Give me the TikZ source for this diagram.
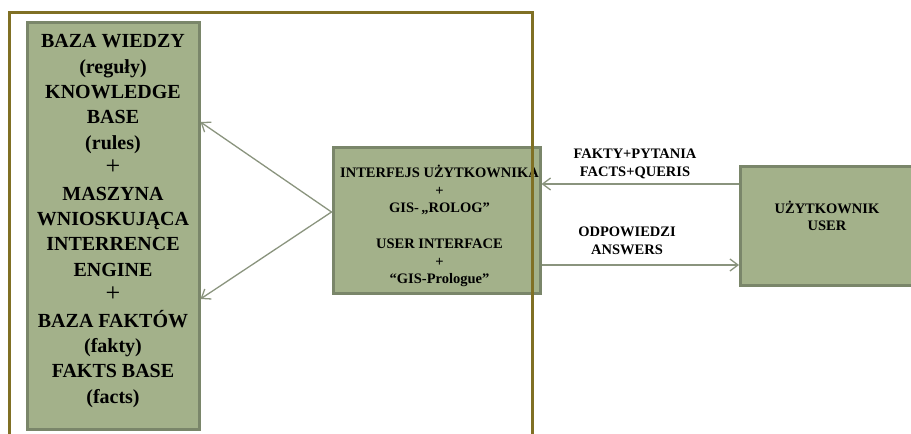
\documentclass[tikz,border=0pt]{standalone}
\usepackage{fontspec}
\setmainfont{Liberation Serif}[BoldFont={Liberation Serif Bold}]
\usetikzlibrary{arrows.meta}
\definecolor{boxfill}{RGB}{163,177,138}
\definecolor{boxline}{RGB}{122,134,106}
\definecolor{frameol}{RGB}{128,112,36}
\definecolor{arrowc}{RGB}{138,148,126}
\begin{document}
\begin{tikzpicture}[x=1pt,y=-1pt,
  gbox/.style={draw=boxline, fill=boxfill, line width=3pt, inner sep=0pt},
  bigtxt/.style={font=\fontsize{20}{25.4}\selectfont\bfseries, align=center, inner sep=0pt},
  midtxt/.style={font=\fontsize{14.5}{17.7}\selectfont\bfseries, align=center, inner sep=0pt},
  conn/.style={draw=arrowc, line width=1.3pt, -{Straight Barb[length=8pt,width=12pt]}},
  dconn/.style={draw=arrowc, line width=1.3pt, {Straight Barb[length=8pt,width=12pt]}-{Straight Barb[length=8pt,width=12pt]}},
  frame/.style={draw=frameol, line width=3pt}]
\useasboundingbox (0,0) rectangle (911,434);
\clip (0,0) rectangle (911,434);
\fill[white] (0,0) rectangle (911,434);
% boxes
\node[gbox, minimum width=172pt, minimum height=407pt] (kb) at (113,225.5) {};
\node[bigtxt] (kbt) at (113,221) {BAZA WIEDZY\\(reguły)\\KNOWLEDGE\\BASE\\(rules)\\{\fontsize{26}{25.4}\selectfont\mdseries +}\\MASZYNA\\WNIOSKUJĄCA\\INTERRENCE\\ENGINE\\{\fontsize{26}{25.4}\selectfont\mdseries +}\\BAZA FAKTÓW\\(fakty)\\FAKTS BASE\\(facts)};
\node[gbox, minimum width=207pt, minimum height=146pt] (ui) at (436.5,220) {};
\node[midtxt] (uit) at (439.5,226) {INTERFEJS UŻYTKOWNIKA\\+\\GIS-\,„ROLOG”\\[17.7pt]USER INTERFACE\\+\\“GIS-Prologue”};
\node[gbox, minimum width=200pt, minimum height=119pt, anchor=west] (us) at (739,225.5) {};
\node[midtxt] (ust) at (827,216) {UŻYTKOWNIK\\USER};
% labels
\node[midtxt] (l1) at (635,164) {FAKTY+PYTANIA\\FACTS+QUERIS};
\node[midtxt] (l2) at (627,240.5) {ODPOWIEDZI\\ANSWERS};
% connectors
\coordinate (uw) at ([yshift=8pt]ui.west);
\draw[dconn] ([yshift=103.5pt]kb.east) -- (uw) -- ([yshift=-73.5pt]kb.east);
\coordinate (ua) at ([yshift=41.5pt]us.west);
\coordinate (ub) at ([yshift=-39.5pt]us.west);
\draw[conn] (ua) -- (ua -| ui.east);
\draw[conn] (ub -| ui.east) -- (ub);
% frame
\draw[frame] (9.5,445) -- (9.5,12.5) -- (532,12.5) -- (532,445);
\end{tikzpicture}
\end{document}
